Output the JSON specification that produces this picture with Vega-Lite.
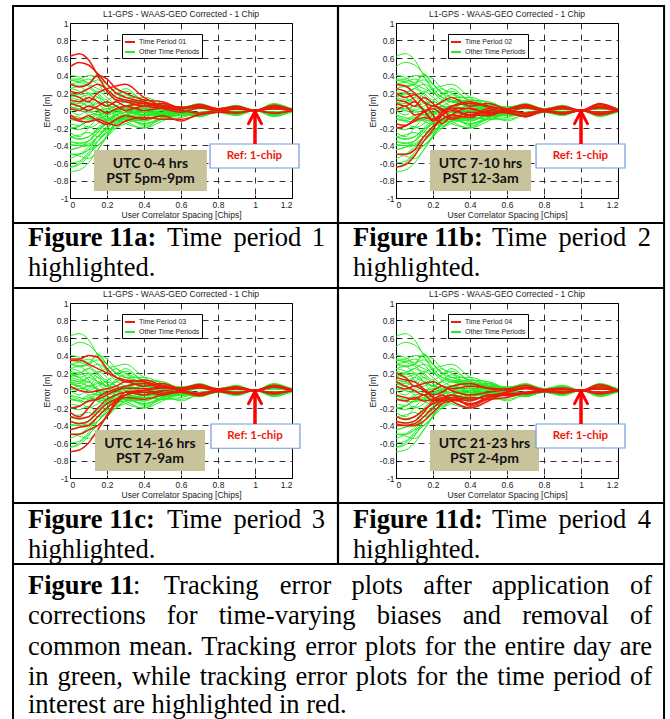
{
"$schema":"https://vega.github.io/schema/vega-lite/v6.json",
"padding":{"left":11,"top":4,"right":0,"bottom":0},
"background":"white",
"datasets":{"curves":[
{"c":1,"x":0,"y":0.62},{"c":1,"x":0.05,"y":0.65},{"c":1,"x":0.1,"y":0.58},{"c":1,"x":0.15,"y":0.4},{"c":1,"x":0.2,"y":0.22},{"c":1,"x":0.25,"y":0.12},{"c":1,"x":0.3,"y":0.1},{"c":1,"x":0.4,"y":0.05},{"c":1,"x":0.5,"y":0.08},{"c":1,"x":0.6,"y":0.02},{"c":1,"x":0.7,"y":0.06},{"c":1,"x":0.8,"y":0.01},{"c":1,"x":0.9,"y":0.04},{"c":1,"x":1,"y":0},{"c":1,"x":1.1,"y":0.05},{"c":1,"x":1.2,"y":0.01},
{"c":2,"x":0,"y":0.5},{"c":2,"x":0.05,"y":0.55},{"c":2,"x":0.1,"y":0.52},{"c":2,"x":0.15,"y":0.42},{"c":2,"x":0.2,"y":0.3},{"c":2,"x":0.25,"y":0.2},{"c":2,"x":0.3,"y":0.15},{"c":2,"x":0.4,"y":0.1},{"c":2,"x":0.5,"y":0.05},{"c":2,"x":0.6,"y":0.04},{"c":2,"x":0.7,"y":0.03},{"c":2,"x":0.8,"y":0.02},{"c":2,"x":0.9,"y":0.03},{"c":2,"x":1,"y":0},{"c":2,"x":1.1,"y":0.04},{"c":2,"x":1.2,"y":0},
{"c":3,"x":0,"y":0.3},{"c":3,"x":0.05,"y":0.27},{"c":3,"x":0.1,"y":0.3},{"c":3,"x":0.15,"y":0.4},{"c":3,"x":0.2,"y":0.36},{"c":3,"x":0.25,"y":0.25},{"c":3,"x":0.3,"y":0.2},{"c":3,"x":0.4,"y":0.12},{"c":3,"x":0.5,"y":0.1},{"c":3,"x":0.6,"y":0.03},{"c":3,"x":0.7,"y":0.07},{"c":3,"x":0.8,"y":0.02},{"c":3,"x":0.9,"y":0.05},{"c":3,"x":1,"y":0},{"c":3,"x":1.1,"y":0.06},{"c":3,"x":1.2,"y":0.01},
{"c":4,"x":0,"y":0.22},{"c":4,"x":0.05,"y":0.2},{"c":4,"x":0.1,"y":0.25},{"c":4,"x":0.15,"y":0.3},{"c":4,"x":0.2,"y":0.24},{"c":4,"x":0.25,"y":0.15},{"c":4,"x":0.3,"y":0.12},{"c":4,"x":0.4,"y":0.08},{"c":4,"x":0.5,"y":0.06},{"c":4,"x":0.6,"y":0.03},{"c":4,"x":0.7,"y":0.05},{"c":4,"x":0.8,"y":0.01},{"c":4,"x":0.9,"y":0.04},{"c":4,"x":1,"y":0},{"c":4,"x":1.1,"y":0.04},{"c":4,"x":1.2,"y":0.01},
{"c":5,"x":0,"y":0.18},{"c":5,"x":0.05,"y":0.15},{"c":5,"x":0.1,"y":0.1},{"c":5,"x":0.15,"y":0.2},{"c":5,"x":0.2,"y":0.25},{"c":5,"x":0.25,"y":0.28},{"c":5,"x":0.3,"y":0.3},{"c":5,"x":0.4,"y":0.15},{"c":5,"x":0.5,"y":0.05},{"c":5,"x":0.6,"y":0.02},{"c":5,"x":0.7,"y":0.06},{"c":5,"x":0.8,"y":0.01},{"c":5,"x":0.9,"y":0.03},{"c":5,"x":1,"y":0},{"c":5,"x":1.1,"y":0.05},{"c":5,"x":1.2,"y":0},
{"c":6,"x":0,"y":0.12},{"c":6,"x":0.05,"y":0.1},{"c":6,"x":0.1,"y":0.15},{"c":6,"x":0.15,"y":0.1},{"c":6,"x":0.2,"y":0.05},{"c":6,"x":0.25,"y":0.1},{"c":6,"x":0.3,"y":0.05},{"c":6,"x":0.4,"y":0.08},{"c":6,"x":0.5,"y":0.03},{"c":6,"x":0.6,"y":0.02},{"c":6,"x":0.7,"y":0.04},{"c":6,"x":0.8,"y":0.01},{"c":6,"x":0.9,"y":0.02},{"c":6,"x":1,"y":0},{"c":6,"x":1.1,"y":0.03},{"c":6,"x":1.2,"y":0.01},
{"c":7,"x":0,"y":0.08},{"c":7,"x":0.05,"y":0.05},{"c":7,"x":0.1,"y":0},{"c":7,"x":0.15,"y":0.05},{"c":7,"x":0.2,"y":0.1},{"c":7,"x":0.25,"y":0.05},{"c":7,"x":0.3,"y":0},{"c":7,"x":0.4,"y":0.05},{"c":7,"x":0.5,"y":0.02},{"c":7,"x":0.6,"y":-0.02},{"c":7,"x":0.7,"y":0.03},{"c":7,"x":0.8,"y":0},{"c":7,"x":0.9,"y":0.02},{"c":7,"x":1,"y":0},{"c":7,"x":1.1,"y":0.02},{"c":7,"x":1.2,"y":0},
{"c":8,"x":0,"y":0.02},{"c":8,"x":0.05,"y":0},{"c":8,"x":0.1,"y":0.05},{"c":8,"x":0.15,"y":0.02},{"c":8,"x":0.2,"y":-0.03},{"c":8,"x":0.25,"y":0.02},{"c":8,"x":0.3,"y":0.05},{"c":8,"x":0.4,"y":0},{"c":8,"x":0.5,"y":0.03},{"c":8,"x":0.6,"y":0},{"c":8,"x":0.7,"y":-0.03},{"c":8,"x":0.8,"y":0},{"c":8,"x":0.9,"y":-0.02},{"c":8,"x":1,"y":0},{"c":8,"x":1.1,"y":-0.03},{"c":8,"x":1.2,"y":0},
{"c":9,"x":0,"y":-0.08},{"c":9,"x":0.05,"y":-0.12},{"c":9,"x":0.1,"y":-0.13},{"c":9,"x":0.15,"y":-0.1},{"c":9,"x":0.2,"y":-0.14},{"c":9,"x":0.25,"y":-0.17},{"c":9,"x":0.3,"y":-0.12},{"c":9,"x":0.4,"y":-0.08},{"c":9,"x":0.5,"y":-0.1},{"c":9,"x":0.6,"y":-0.1},{"c":9,"x":0.7,"y":-0.05},{"c":9,"x":0.8,"y":-0.02},{"c":9,"x":0.9,"y":-0.03},{"c":9,"x":1,"y":0},{"c":9,"x":1.1,"y":-0.03},{"c":9,"x":1.2,"y":0},
{"c":10,"x":0,"y":-0.05},{"c":10,"x":0.05,"y":-0.1},{"c":10,"x":0.1,"y":-0.06},{"c":10,"x":0.15,"y":-0.12},{"c":10,"x":0.2,"y":-0.16},{"c":10,"x":0.25,"y":-0.1},{"c":10,"x":0.3,"y":-0.06},{"c":10,"x":0.4,"y":-0.1},{"c":10,"x":0.5,"y":-0.06},{"c":10,"x":0.6,"y":-0.12},{"c":10,"x":0.7,"y":-0.04},{"c":10,"x":0.8,"y":-0.02},{"c":10,"x":0.9,"y":0.02},{"c":10,"x":1,"y":0},{"c":10,"x":1.1,"y":0.02},{"c":10,"x":1.2,"y":0},
{"c":11,"x":0,"y":0.3},{"c":11,"x":0.05,"y":0.28},{"c":11,"x":0.1,"y":0.2},{"c":11,"x":0.15,"y":0.1},{"c":11,"x":0.2,"y":0.05},{"c":11,"x":0.25,"y":0.1},{"c":11,"x":0.3,"y":0.15},{"c":11,"x":0.4,"y":0.05},{"c":11,"x":0.5,"y":0.08},{"c":11,"x":0.6,"y":0.02},{"c":11,"x":0.7,"y":0.07},{"c":11,"x":0.8,"y":0.01},{"c":11,"x":0.9,"y":0.05},{"c":11,"x":1,"y":0},{"c":11,"x":1.1,"y":0.08},{"c":11,"x":1.2,"y":0.01},
{"c":12,"x":0,"y":0.25},{"c":12,"x":0.05,"y":0.22},{"c":12,"x":0.1,"y":0.12},{"c":12,"x":0.15,"y":0},{"c":12,"x":0.2,"y":-0.1},{"c":12,"x":0.25,"y":-0.05},{"c":12,"x":0.3,"y":0.05},{"c":12,"x":0.4,"y":0.08},{"c":12,"x":0.5,"y":0.05},{"c":12,"x":0.6,"y":0},{"c":12,"x":0.7,"y":-0.07},{"c":12,"x":0.8,"y":0},{"c":12,"x":0.9,"y":-0.04},{"c":12,"x":1,"y":0},{"c":12,"x":1.1,"y":-0.05},{"c":12,"x":1.2,"y":0},
{"c":13,"x":0,"y":0.2},{"c":13,"x":0.05,"y":0.15},{"c":13,"x":0.1,"y":0.18},{"c":13,"x":0.15,"y":0.1},{"c":13,"x":0.2,"y":-0.05},{"c":13,"x":0.25,"y":-0.15},{"c":13,"x":0.3,"y":-0.05},{"c":13,"x":0.4,"y":0.03},{"c":13,"x":0.5,"y":-0.04},{"c":13,"x":0.6,"y":0.01},{"c":13,"x":0.7,"y":0.05},{"c":13,"x":0.8,"y":0.01},{"c":13,"x":0.9,"y":0.03},{"c":13,"x":1,"y":0},{"c":13,"x":1.1,"y":0.04},{"c":13,"x":1.2,"y":0.01},
{"c":14,"x":0,"y":0.12},{"c":14,"x":0.05,"y":0.1},{"c":14,"x":0.1,"y":0.05},{"c":14,"x":0.15,"y":0.15},{"c":14,"x":0.2,"y":0.08},{"c":14,"x":0.25,"y":0},{"c":14,"x":0.3,"y":0.05},{"c":14,"x":0.4,"y":0.1},{"c":14,"x":0.5,"y":0.04},{"c":14,"x":0.6,"y":0.02},{"c":14,"x":0.7,"y":0.06},{"c":14,"x":0.8,"y":0.01},{"c":14,"x":0.9,"y":0.04},{"c":14,"x":1,"y":0},{"c":14,"x":1.1,"y":0.07},{"c":14,"x":1.2,"y":0},
{"c":15,"x":0,"y":0.08},{"c":15,"x":0.05,"y":0.05},{"c":15,"x":0.1,"y":0.1},{"c":15,"x":0.15,"y":0},{"c":15,"x":0.2,"y":-0.12},{"c":15,"x":0.25,"y":-0.05},{"c":15,"x":0.3,"y":0},{"c":15,"x":0.4,"y":-0.05},{"c":15,"x":0.5,"y":0.02},{"c":15,"x":0.6,"y":-0.02},{"c":15,"x":0.7,"y":-0.06},{"c":15,"x":0.8,"y":-0.01},{"c":15,"x":0.9,"y":-0.03},{"c":15,"x":1,"y":0},{"c":15,"x":1.1,"y":-0.04},{"c":15,"x":1.2,"y":0},
{"c":16,"x":0,"y":0},{"c":16,"x":0.05,"y":0.05},{"c":16,"x":0.1,"y":-0.05},{"c":16,"x":0.15,"y":-0.02},{"c":16,"x":0.2,"y":0.05},{"c":16,"x":0.25,"y":0.02},{"c":16,"x":0.3,"y":-0.08},{"c":16,"x":0.4,"y":-0.02},{"c":16,"x":0.5,"y":-0.04},{"c":16,"x":0.6,"y":0.02},{"c":16,"x":0.7,"y":0.03},{"c":16,"x":0.8,"y":0},{"c":16,"x":0.9,"y":0.02},{"c":16,"x":1,"y":0},{"c":16,"x":1.1,"y":0.03},{"c":16,"x":1.2,"y":0},
{"c":17,"x":0,"y":-0.15},{"c":17,"x":0.05,"y":-0.17},{"c":17,"x":0.1,"y":-0.1},{"c":17,"x":0.15,"y":-0.02},{"c":17,"x":0.2,"y":0.02},{"c":17,"x":0.25,"y":-0.05},{"c":17,"x":0.3,"y":-0.1},{"c":17,"x":0.4,"y":-0.05},{"c":17,"x":0.5,"y":-0.06},{"c":17,"x":0.6,"y":0},{"c":17,"x":0.7,"y":-0.04},{"c":17,"x":0.8,"y":-0.01},{"c":17,"x":0.9,"y":-0.03},{"c":17,"x":1,"y":0},{"c":17,"x":1.1,"y":-0.02},{"c":17,"x":1.2,"y":0},
{"c":18,"x":0,"y":-0.2},{"c":18,"x":0.05,"y":-0.18},{"c":18,"x":0.1,"y":-0.12},{"c":18,"x":0.15,"y":-0.08},{"c":18,"x":0.2,"y":-0.1},{"c":18,"x":0.25,"y":-0.02},{"c":18,"x":0.3,"y":0.02},{"c":18,"x":0.4,"y":-0.06},{"c":18,"x":0.5,"y":-0.02},{"c":18,"x":0.6,"y":-0.03},{"c":18,"x":0.7,"y":-0.07},{"c":18,"x":0.8,"y":-0.01},{"c":18,"x":0.9,"y":-0.04},{"c":18,"x":1,"y":0},{"c":18,"x":1.1,"y":-0.03},{"c":18,"x":1.2,"y":0},
{"c":19,"x":0,"y":-0.5},{"c":19,"x":0.05,"y":-0.5},{"c":19,"x":0.1,"y":-0.45},{"c":19,"x":0.15,"y":-0.3},{"c":19,"x":0.2,"y":-0.18},{"c":19,"x":0.25,"y":-0.1},{"c":19,"x":0.3,"y":-0.05},{"c":19,"x":0.4,"y":-0.08},{"c":19,"x":0.5,"y":0},{"c":19,"x":0.6,"y":-0.02},{"c":19,"x":0.7,"y":0.04},{"c":19,"x":0.8,"y":0.01},{"c":19,"x":0.9,"y":0.03},{"c":19,"x":1,"y":0},{"c":19,"x":1.1,"y":0.05},{"c":19,"x":1.2,"y":0},
{"c":20,"x":0,"y":-0.65},{"c":20,"x":0.05,"y":-0.62},{"c":20,"x":0.1,"y":-0.52},{"c":20,"x":0.15,"y":-0.35},{"c":20,"x":0.2,"y":-0.22},{"c":20,"x":0.25,"y":-0.05},{"c":20,"x":0.3,"y":0.03},{"c":20,"x":0.4,"y":0.02},{"c":20,"x":0.5,"y":-0.03},{"c":20,"x":0.6,"y":0.01},{"c":20,"x":0.7,"y":-0.03},{"c":20,"x":0.8,"y":0},{"c":20,"x":0.9,"y":-0.02},{"c":20,"x":1,"y":0},{"c":20,"x":1.1,"y":-0.02},{"c":20,"x":1.2,"y":0},
{"c":21,"x":0,"y":0.36},{"c":21,"x":0.05,"y":0.36},{"c":21,"x":0.1,"y":0.4},{"c":21,"x":0.15,"y":0.38},{"c":21,"x":0.2,"y":0.25},{"c":21,"x":0.25,"y":0.15},{"c":21,"x":0.3,"y":0.12},{"c":21,"x":0.4,"y":0.1},{"c":21,"x":0.5,"y":0.05},{"c":21,"x":0.6,"y":0.03},{"c":21,"x":0.7,"y":0.06},{"c":21,"x":0.8,"y":0.01},{"c":21,"x":0.9,"y":0.04},{"c":21,"x":1,"y":0},{"c":21,"x":1.1,"y":0.05},{"c":21,"x":1.2,"y":0.01},
{"c":22,"x":0,"y":0.34},{"c":22,"x":0.05,"y":0.35},{"c":22,"x":0.1,"y":0.3},{"c":22,"x":0.15,"y":0.25},{"c":22,"x":0.2,"y":0.2},{"c":22,"x":0.25,"y":0.15},{"c":22,"x":0.3,"y":0.1},{"c":22,"x":0.4,"y":0.12},{"c":22,"x":0.5,"y":0.06},{"c":22,"x":0.6,"y":0.02},{"c":22,"x":0.7,"y":0.05},{"c":22,"x":0.8,"y":0.02},{"c":22,"x":0.9,"y":0.03},{"c":22,"x":1,"y":0},{"c":22,"x":1.1,"y":0.04},{"c":22,"x":1.2,"y":0},
{"c":23,"x":0,"y":0.05},{"c":23,"x":0.05,"y":0},{"c":23,"x":0.1,"y":-0.02},{"c":23,"x":0.15,"y":0},{"c":23,"x":0.2,"y":0.02},{"c":23,"x":0.25,"y":0.05},{"c":23,"x":0.3,"y":0.1},{"c":23,"x":0.4,"y":0.05},{"c":23,"x":0.5,"y":0.08},{"c":23,"x":0.6,"y":0.02},{"c":23,"x":0.7,"y":0.07},{"c":23,"x":0.8,"y":0.01},{"c":23,"x":0.9,"y":0.04},{"c":23,"x":1,"y":0},{"c":23,"x":1.1,"y":0.06},{"c":23,"x":1.2,"y":0.01},
{"c":24,"x":0,"y":-0.2},{"c":24,"x":0.05,"y":-0.18},{"c":24,"x":0.1,"y":-0.12},{"c":24,"x":0.15,"y":-0.1},{"c":24,"x":0.2,"y":-0.05},{"c":24,"x":0.25,"y":0},{"c":24,"x":0.3,"y":0.03},{"c":24,"x":0.4,"y":0.02},{"c":24,"x":0.5,"y":0.04},{"c":24,"x":0.6,"y":0},{"c":24,"x":0.7,"y":0.05},{"c":24,"x":0.8,"y":0.01},{"c":24,"x":0.9,"y":0.03},{"c":24,"x":1,"y":0},{"c":24,"x":1.1,"y":0.05},{"c":24,"x":1.2,"y":0},
{"c":25,"x":0,"y":-0.25},{"c":25,"x":0.05,"y":-0.3},{"c":25,"x":0.1,"y":-0.2},{"c":25,"x":0.15,"y":-0.08},{"c":25,"x":0.2,"y":-0.02},{"c":25,"x":0.25,"y":0.02},{"c":25,"x":0.3,"y":0.05},{"c":25,"x":0.4,"y":0.08},{"c":25,"x":0.5,"y":0.03},{"c":25,"x":0.6,"y":0.02},{"c":25,"x":0.7,"y":0.04},{"c":25,"x":0.8,"y":0.01},{"c":25,"x":0.9,"y":0.02},{"c":25,"x":1,"y":0},{"c":25,"x":1.1,"y":0.04},{"c":25,"x":1.2,"y":0},
{"c":26,"x":0,"y":-0.3},{"c":26,"x":0.05,"y":-0.32},{"c":26,"x":0.1,"y":-0.3},{"c":26,"x":0.15,"y":-0.2},{"c":26,"x":0.2,"y":-0.1},{"c":26,"x":0.25,"y":-0.05},{"c":26,"x":0.3,"y":-0.02},{"c":26,"x":0.4,"y":0},{"c":26,"x":0.5,"y":-0.03},{"c":26,"x":0.6,"y":-0.01},{"c":26,"x":0.7,"y":-0.05},{"c":26,"x":0.8,"y":-0.01},{"c":26,"x":0.9,"y":-0.03},{"c":26,"x":1,"y":0},{"c":26,"x":1.1,"y":-0.03},{"c":26,"x":1.2,"y":0},
{"c":27,"x":0,"y":-0.35},{"c":27,"x":0.05,"y":-0.38},{"c":27,"x":0.1,"y":-0.35},{"c":27,"x":0.15,"y":-0.25},{"c":27,"x":0.2,"y":-0.15},{"c":27,"x":0.25,"y":-0.1},{"c":27,"x":0.3,"y":-0.05},{"c":27,"x":0.4,"y":-0.02},{"c":27,"x":0.5,"y":-0.05},{"c":27,"x":0.6,"y":0},{"c":27,"x":0.7,"y":-0.04},{"c":27,"x":0.8,"y":0},{"c":27,"x":0.9,"y":-0.02},{"c":27,"x":1,"y":0},{"c":27,"x":1.1,"y":-0.04},{"c":27,"x":1.2,"y":0},
{"c":28,"x":0,"y":-0.45},{"c":28,"x":0.05,"y":-0.42},{"c":28,"x":0.1,"y":-0.4},{"c":28,"x":0.15,"y":-0.3},{"c":28,"x":0.2,"y":-0.2},{"c":28,"x":0.25,"y":-0.12},{"c":28,"x":0.3,"y":-0.08},{"c":28,"x":0.4,"y":-0.1},{"c":28,"x":0.5,"y":-0.05},{"c":28,"x":0.6,"y":-0.02},{"c":28,"x":0.7,"y":-0.06},{"c":28,"x":0.8,"y":-0.01},{"c":28,"x":0.9,"y":-0.04},{"c":28,"x":1,"y":0},{"c":28,"x":1.1,"y":-0.03},{"c":28,"x":1.2,"y":0},
{"c":29,"x":0,"y":-0.5},{"c":29,"x":0.05,"y":-0.5},{"c":29,"x":0.1,"y":-0.45},{"c":29,"x":0.15,"y":-0.4},{"c":29,"x":0.2,"y":-0.3},{"c":29,"x":0.25,"y":-0.15},{"c":29,"x":0.3,"y":-0.05},{"c":29,"x":0.4,"y":0},{"c":29,"x":0.5,"y":0.03},{"c":29,"x":0.6,"y":0.01},{"c":29,"x":0.7,"y":0.03},{"c":29,"x":0.8,"y":0},{"c":29,"x":0.9,"y":0.02},{"c":29,"x":1,"y":0},{"c":29,"x":1.1,"y":0.04},{"c":29,"x":1.2,"y":0},
{"c":30,"x":0,"y":-0.7},{"c":30,"x":0.05,"y":-0.68},{"c":30,"x":0.1,"y":-0.6},{"c":30,"x":0.15,"y":-0.45},{"c":30,"x":0.2,"y":-0.28},{"c":30,"x":0.25,"y":-0.12},{"c":30,"x":0.3,"y":-0.02},{"c":30,"x":0.4,"y":-0.05},{"c":30,"x":0.5,"y":0},{"c":30,"x":0.6,"y":-0.02},{"c":30,"x":0.7,"y":-0.03},{"c":30,"x":0.8,"y":0},{"c":30,"x":0.9,"y":-0.03},{"c":30,"x":1,"y":0},{"c":30,"x":1.1,"y":-0.02},{"c":30,"x":1.2,"y":0},
{"c":31,"x":0,"y":0.2},{"c":31,"x":0.05,"y":0.15},{"c":31,"x":0.1,"y":0.05},{"c":31,"x":0.15,"y":0.08},{"c":31,"x":0.2,"y":0.1},{"c":31,"x":0.25,"y":0.05},{"c":31,"x":0.3,"y":0.02},{"c":31,"x":0.4,"y":0.05},{"c":31,"x":0.5,"y":0.03},{"c":31,"x":0.6,"y":0.02},{"c":31,"x":0.7,"y":0.06},{"c":31,"x":0.8,"y":0.01},{"c":31,"x":0.9,"y":0.03},{"c":31,"x":1,"y":0},{"c":31,"x":1.1,"y":0.07},{"c":31,"x":1.2,"y":0},
{"c":32,"x":0,"y":0.15},{"c":32,"x":0.05,"y":0.12},{"c":32,"x":0.1,"y":0.1},{"c":32,"x":0.15,"y":0.02},{"c":32,"x":0.2,"y":-0.05},{"c":32,"x":0.25,"y":-0.02},{"c":32,"x":0.3,"y":0.05},{"c":32,"x":0.4,"y":0.08},{"c":32,"x":0.5,"y":0.02},{"c":32,"x":0.6,"y":0},{"c":32,"x":0.7,"y":0.04},{"c":32,"x":0.8,"y":0.01},{"c":32,"x":0.9,"y":0.02},{"c":32,"x":1,"y":0},{"c":32,"x":1.1,"y":0.05},{"c":32,"x":1.2,"y":0},
{"c":33,"x":0,"y":0.1},{"c":33,"x":0.05,"y":0.05},{"c":33,"x":0.1,"y":0},{"c":33,"x":0.15,"y":-0.05},{"c":33,"x":0.2,"y":0},{"c":33,"x":0.25,"y":0.05},{"c":33,"x":0.3,"y":0},{"c":33,"x":0.4,"y":-0.05},{"c":33,"x":0.5,"y":-0.02},{"c":33,"x":0.6,"y":0.01},{"c":33,"x":0.7,"y":0.03},{"c":33,"x":0.8,"y":0},{"c":33,"x":0.9,"y":0.01},{"c":33,"x":1,"y":0},{"c":33,"x":1.1,"y":0.02},{"c":33,"x":1.2,"y":0},
{"c":34,"x":0,"y":0.05},{"c":34,"x":0.05,"y":0.02},{"c":34,"x":0.1,"y":0.05},{"c":34,"x":0.15,"y":0},{"c":34,"x":0.2,"y":-0.08},{"c":34,"x":0.25,"y":-0.12},{"c":34,"x":0.3,"y":-0.1},{"c":34,"x":0.4,"y":-0.15},{"c":34,"x":0.5,"y":-0.08},{"c":34,"x":0.6,"y":-0.05},{"c":34,"x":0.7,"y":-0.02},{"c":34,"x":0.8,"y":0},{"c":34,"x":0.9,"y":-0.02},{"c":34,"x":1,"y":0},{"c":34,"x":1.1,"y":-0.02},{"c":34,"x":1.2,"y":0},
{"c":35,"x":0,"y":-0.05},{"c":35,"x":0.05,"y":-0.08},{"c":35,"x":0.1,"y":-0.1},{"c":35,"x":0.15,"y":-0.05},{"c":35,"x":0.2,"y":-0.12},{"c":35,"x":0.25,"y":-0.1},{"c":35,"x":0.3,"y":-0.05},{"c":35,"x":0.4,"y":-0.18},{"c":35,"x":0.5,"y":-0.1},{"c":35,"x":0.6,"y":-0.08},{"c":35,"x":0.7,"y":-0.03},{"c":35,"x":0.8,"y":-0.01},{"c":35,"x":0.9,"y":-0.02},{"c":35,"x":1,"y":0},{"c":35,"x":1.1,"y":-0.03},{"c":35,"x":1.2,"y":0},
{"c":36,"x":0,"y":-0.1},{"c":36,"x":0.05,"y":-0.12},{"c":36,"x":0.1,"y":-0.08},{"c":36,"x":0.15,"y":-0.12},{"c":36,"x":0.2,"y":-0.1},{"c":36,"x":0.25,"y":-0.05},{"c":36,"x":0.3,"y":-0.12},{"c":36,"x":0.4,"y":-0.2},{"c":36,"x":0.5,"y":-0.12},{"c":36,"x":0.6,"y":-0.03},{"c":36,"x":0.7,"y":-0.04},{"c":36,"x":0.8,"y":-0.01},{"c":36,"x":0.9,"y":-0.03},{"c":36,"x":1,"y":0},{"c":36,"x":1.1,"y":-0.04},{"c":36,"x":1.2,"y":0},
{"c":37,"x":0,"y":-0.3},{"c":37,"x":0.05,"y":-0.33},{"c":37,"x":0.1,"y":-0.3},{"c":37,"x":0.15,"y":-0.22},{"c":37,"x":0.2,"y":-0.15},{"c":37,"x":0.25,"y":-0.1},{"c":37,"x":0.3,"y":-0.08},{"c":37,"x":0.4,"y":-0.12},{"c":37,"x":0.5,"y":-0.05},{"c":37,"x":0.6,"y":-0.06},{"c":37,"x":0.7,"y":-0.02},{"c":37,"x":0.8,"y":0},{"c":37,"x":0.9,"y":0.02},{"c":37,"x":1,"y":0},{"c":37,"x":1.1,"y":0.03},{"c":37,"x":1.2,"y":0},
{"c":38,"x":0,"y":-0.35},{"c":38,"x":0.05,"y":-0.37},{"c":38,"x":0.1,"y":-0.35},{"c":38,"x":0.15,"y":-0.25},{"c":38,"x":0.2,"y":-0.12},{"c":38,"x":0.25,"y":-0.08},{"c":38,"x":0.3,"y":-0.05},{"c":38,"x":0.4,"y":-0.1},{"c":38,"x":0.5,"y":-0.06},{"c":38,"x":0.6,"y":-0.02},{"c":38,"x":0.7,"y":0.02},{"c":38,"x":0.8,"y":0},{"c":38,"x":0.9,"y":0.01},{"c":38,"x":1,"y":0},{"c":38,"x":1.1,"y":0.02},{"c":38,"x":1.2,"y":0},
{"c":39,"x":0,"y":-0.4},{"c":39,"x":0.05,"y":-0.4},{"c":39,"x":0.1,"y":-0.38},{"c":39,"x":0.15,"y":-0.3},{"c":39,"x":0.2,"y":-0.2},{"c":39,"x":0.25,"y":-0.12},{"c":39,"x":0.3,"y":-0.1},{"c":39,"x":0.4,"y":-0.16},{"c":39,"x":0.5,"y":-0.08},{"c":39,"x":0.6,"y":-0.04},{"c":39,"x":0.7,"y":-0.03},{"c":39,"x":0.8,"y":-0.01},{"c":39,"x":0.9,"y":-0.02},{"c":39,"x":1,"y":0},{"c":39,"x":1.1,"y":-0.02},{"c":39,"x":1.2,"y":0},
{"c":40,"x":0,"y":-0.38},{"c":40,"x":0.05,"y":-0.4},{"c":40,"x":0.1,"y":-0.4},{"c":40,"x":0.15,"y":-0.35},{"c":40,"x":0.2,"y":-0.25},{"c":40,"x":0.25,"y":-0.15},{"c":40,"x":0.3,"y":-0.12},{"c":40,"x":0.4,"y":-0.08},{"c":40,"x":0.5,"y":-0.1},{"c":40,"x":0.6,"y":-0.02},{"c":40,"x":0.7,"y":0.03},{"c":40,"x":0.8,"y":0},{"c":40,"x":0.9,"y":0.02},{"c":40,"x":1,"y":0},{"c":40,"x":1.1,"y":0.02},{"c":40,"x":1.2,"y":0},
{"c":41,"x":0,"y":0.4},{"c":41,"x":0.05,"y":0.38},{"c":41,"x":0.1,"y":0.32},{"c":41,"x":0.15,"y":0.42},{"c":41,"x":0.2,"y":0.3},{"c":41,"x":0.25,"y":0.2},{"c":41,"x":0.3,"y":0.25},{"c":41,"x":0.4,"y":0.1},{"c":41,"x":0.5,"y":0.06},{"c":41,"x":0.6,"y":0.03},{"c":41,"x":0.7,"y":0.06},{"c":41,"x":0.8,"y":0.02},{"c":41,"x":0.9,"y":0.05},{"c":41,"x":1,"y":0},{"c":41,"x":1.1,"y":0.06},{"c":41,"x":1.2,"y":0.01},
{"c":42,"x":0,"y":0.35},{"c":42,"x":0.05,"y":0.33},{"c":42,"x":0.1,"y":0.36},{"c":42,"x":0.15,"y":0.3},{"c":42,"x":0.2,"y":0.2},{"c":42,"x":0.25,"y":0.25},{"c":42,"x":0.3,"y":0.15},{"c":42,"x":0.4,"y":0.15},{"c":42,"x":0.5,"y":0.08},{"c":42,"x":0.6,"y":0.04},{"c":42,"x":0.7,"y":0.07},{"c":42,"x":0.8,"y":0.02},{"c":42,"x":0.9,"y":0.05},{"c":42,"x":1,"y":0},{"c":42,"x":1.1,"y":0.07},{"c":42,"x":1.2,"y":0.02},
{"c":43,"x":0,"y":0.3},{"c":43,"x":0.05,"y":0.32},{"c":43,"x":0.1,"y":0.28},{"c":43,"x":0.15,"y":0.2},{"c":43,"x":0.2,"y":0.12},{"c":43,"x":0.25,"y":0.18},{"c":43,"x":0.3,"y":0.22},{"c":43,"x":0.4,"y":0.12},{"c":43,"x":0.5,"y":0.1},{"c":43,"x":0.6,"y":0.03},{"c":43,"x":0.7,"y":0.08},{"c":43,"x":0.8,"y":0.02},{"c":43,"x":0.9,"y":0.06},{"c":43,"x":1,"y":0},{"c":43,"x":1.1,"y":0.05},{"c":43,"x":1.2,"y":0.01},
{"c":44,"x":0,"y":0.25},{"c":44,"x":0.05,"y":0.28},{"c":44,"x":0.1,"y":0.3},{"c":44,"x":0.15,"y":0.35},{"c":44,"x":0.2,"y":0.3},{"c":44,"x":0.25,"y":0.2},{"c":44,"x":0.3,"y":0.1},{"c":44,"x":0.4,"y":0.08},{"c":44,"x":0.5,"y":0.04},{"c":44,"x":0.6,"y":0.02},{"c":44,"x":0.7,"y":0.05},{"c":44,"x":0.8,"y":0.01},{"c":44,"x":0.9,"y":0.04},{"c":44,"x":1,"y":0},{"c":44,"x":1.1,"y":0.06},{"c":44,"x":1.2,"y":0.02},
{"c":45,"x":0,"y":0.2},{"c":45,"x":0.05,"y":0.18},{"c":45,"x":0.1,"y":0.2},{"c":45,"x":0.15,"y":0.15},{"c":45,"x":0.2,"y":0.05},{"c":45,"x":0.25,"y":0.12},{"c":45,"x":0.3,"y":0.18},{"c":45,"x":0.4,"y":0.06},{"c":45,"x":0.5,"y":0.05},{"c":45,"x":0.6,"y":0.02},{"c":45,"x":0.7,"y":0.06},{"c":45,"x":0.8,"y":0.01},{"c":45,"x":0.9,"y":0.03},{"c":45,"x":1,"y":0},{"c":45,"x":1.1,"y":0.05},{"c":45,"x":1.2,"y":0.01},
{"c":46,"x":0,"y":0.15},{"c":46,"x":0.05,"y":0.2},{"c":46,"x":0.1,"y":0.25},{"c":46,"x":0.15,"y":0.18},{"c":46,"x":0.2,"y":0.08},{"c":46,"x":0.25,"y":0},{"c":46,"x":0.3,"y":0.05},{"c":46,"x":0.4,"y":0.02},{"c":46,"x":0.5,"y":0.06},{"c":46,"x":0.6,"y":0},{"c":46,"x":0.7,"y":0.04},{"c":46,"x":0.8,"y":0.02},{"c":46,"x":0.9,"y":0.03},{"c":46,"x":1,"y":0},{"c":46,"x":1.1,"y":0.04},{"c":46,"x":1.2,"y":0},
{"c":47,"x":0,"y":0.1},{"c":47,"x":0.05,"y":0.08},{"c":47,"x":0.1,"y":0.15},{"c":47,"x":0.15,"y":0.22},{"c":47,"x":0.2,"y":0.15},{"c":47,"x":0.25,"y":0.05},{"c":47,"x":0.3,"y":-0.05},{"c":47,"x":0.4,"y":0.03},{"c":47,"x":0.5,"y":0},{"c":47,"x":0.6,"y":-0.02},{"c":47,"x":0.7,"y":0.03},{"c":47,"x":0.8,"y":0},{"c":47,"x":0.9,"y":0.02},{"c":47,"x":1,"y":0},{"c":47,"x":1.1,"y":0.03},{"c":47,"x":1.2,"y":0},
{"c":48,"x":0,"y":0},{"c":48,"x":0.05,"y":-0.05},{"c":48,"x":0.1,"y":0.02},{"c":48,"x":0.15,"y":0.1},{"c":48,"x":0.2,"y":0.05},{"c":48,"x":0.25,"y":-0.05},{"c":48,"x":0.3,"y":-0.1},{"c":48,"x":0.4,"y":-0.05},{"c":48,"x":0.5,"y":-0.02},{"c":48,"x":0.6,"y":-0.01},{"c":48,"x":0.7,"y":-0.05},{"c":48,"x":0.8,"y":0},{"c":48,"x":0.9,"y":-0.03},{"c":48,"x":1,"y":0},{"c":48,"x":1.1,"y":-0.04},{"c":48,"x":1.2,"y":0},
{"c":49,"x":0,"y":-0.1},{"c":49,"x":0.05,"y":-0.12},{"c":49,"x":0.1,"y":-0.2},{"c":49,"x":0.15,"y":-0.15},{"c":49,"x":0.2,"y":-0.05},{"c":49,"x":0.25,"y":0.02},{"c":49,"x":0.3,"y":0.05},{"c":49,"x":0.4,"y":-0.02},{"c":49,"x":0.5,"y":0.02},{"c":49,"x":0.6,"y":0},{"c":49,"x":0.7,"y":-0.04},{"c":49,"x":0.8,"y":0},{"c":49,"x":0.9,"y":-0.03},{"c":49,"x":1,"y":0},{"c":49,"x":1.1,"y":-0.05},{"c":49,"x":1.2,"y":0},
{"c":50,"x":0,"y":-0.2},{"c":50,"x":0.05,"y":-0.22},{"c":50,"x":0.1,"y":-0.18},{"c":50,"x":0.15,"y":-0.25},{"c":50,"x":0.2,"y":-0.2},{"c":50,"x":0.25,"y":-0.1},{"c":50,"x":0.3,"y":-0.15},{"c":50,"x":0.4,"y":-0.2},{"c":50,"x":0.5,"y":-0.08},{"c":50,"x":0.6,"y":-0.05},{"c":50,"x":0.7,"y":-0.05},{"c":50,"x":0.8,"y":-0.02},{"c":50,"x":0.9,"y":-0.04},{"c":50,"x":1,"y":0},{"c":50,"x":1.1,"y":-0.05},{"c":50,"x":1.2,"y":-0.01},
{"c":51,"x":0,"y":-0.3},{"c":51,"x":0.05,"y":-0.28},{"c":51,"x":0.1,"y":-0.25},{"c":51,"x":0.15,"y":-0.3},{"c":51,"x":0.2,"y":-0.25},{"c":51,"x":0.25,"y":-0.15},{"c":51,"x":0.3,"y":-0.1},{"c":51,"x":0.4,"y":-0.12},{"c":51,"x":0.5,"y":-0.05},{"c":51,"x":0.6,"y":-0.02},{"c":51,"x":0.7,"y":-0.06},{"c":51,"x":0.8,"y":-0.02},{"c":51,"x":0.9,"y":-0.04},{"c":51,"x":1,"y":0},{"c":51,"x":1.1,"y":-0.06},{"c":51,"x":1.2,"y":-0.01},
{"c":52,"x":0,"y":-0.45},{"c":52,"x":0.05,"y":-0.42},{"c":52,"x":0.1,"y":-0.35},{"c":52,"x":0.15,"y":-0.22},{"c":52,"x":0.2,"y":-0.15},{"c":52,"x":0.25,"y":-0.18},{"c":52,"x":0.3,"y":-0.12},{"c":52,"x":0.4,"y":-0.06},{"c":52,"x":0.5,"y":-0.04},{"c":52,"x":0.6,"y":-0.03},{"c":52,"x":0.7,"y":-0.05},{"c":52,"x":0.8,"y":-0.01},{"c":52,"x":0.9,"y":-0.03},{"c":52,"x":1,"y":0},{"c":52,"x":1.1,"y":-0.04},{"c":52,"x":1.2,"y":0},
{"c":53,"x":0,"y":-0.55},{"c":53,"x":0.05,"y":-0.5},{"c":53,"x":0.1,"y":-0.42},{"c":53,"x":0.15,"y":-0.3},{"c":53,"x":0.2,"y":-0.22},{"c":53,"x":0.25,"y":-0.2},{"c":53,"x":0.3,"y":-0.12},{"c":53,"x":0.4,"y":-0.1},{"c":53,"x":0.5,"y":-0.06},{"c":53,"x":0.6,"y":-0.04},{"c":53,"x":0.7,"y":-0.06},{"c":53,"x":0.8,"y":-0.02},{"c":53,"x":0.9,"y":-0.05},{"c":53,"x":1,"y":0},{"c":53,"x":1.1,"y":-0.07},{"c":53,"x":1.2,"y":-0.01},
{"c":54,"x":0,"y":-0.6},{"c":54,"x":0.05,"y":-0.58},{"c":54,"x":0.1,"y":-0.48},{"c":54,"x":0.15,"y":-0.35},{"c":54,"x":0.2,"y":-0.25},{"c":54,"x":0.25,"y":-0.15},{"c":54,"x":0.3,"y":-0.08},{"c":54,"x":0.4,"y":-0.04},{"c":54,"x":0.5,"y":-0.03},{"c":54,"x":0.6,"y":-0.02},{"c":54,"x":0.7,"y":-0.04},{"c":54,"x":0.8,"y":-0.01},{"c":54,"x":0.9,"y":-0.02},{"c":54,"x":1,"y":0},{"c":54,"x":1.1,"y":-0.05},{"c":54,"x":1.2,"y":-0.02},
{"c":55,"x":0,"y":-0.65},{"c":55,"x":0.05,"y":-0.6},{"c":55,"x":0.1,"y":-0.5},{"c":55,"x":0.15,"y":-0.4},{"c":55,"x":0.2,"y":-0.3},{"c":55,"x":0.25,"y":-0.2},{"c":55,"x":0.3,"y":-0.15},{"c":55,"x":0.4,"y":-0.08},{"c":55,"x":0.5,"y":-0.07},{"c":55,"x":0.6,"y":-0.04},{"c":55,"x":0.7,"y":-0.07},{"c":55,"x":0.8,"y":-0.02},{"c":55,"x":0.9,"y":-0.06},{"c":55,"x":1,"y":0},{"c":55,"x":1.1,"y":-0.06},{"c":55,"x":1.2,"y":-0.01},
{"c":56,"x":0,"y":-0.5},{"c":56,"x":0.05,"y":-0.52},{"c":56,"x":0.1,"y":-0.55},{"c":56,"x":0.15,"y":-0.45},{"c":56,"x":0.2,"y":-0.3},{"c":56,"x":0.25,"y":-0.15},{"c":56,"x":0.3,"y":-0.1},{"c":56,"x":0.4,"y":-0.15},{"c":56,"x":0.5,"y":-0.1},{"c":56,"x":0.6,"y":-0.05},{"c":56,"x":0.7,"y":-0.03},{"c":56,"x":0.8,"y":-0.01},{"c":56,"x":0.9,"y":-0.02},{"c":56,"x":1,"y":0},{"c":56,"x":1.1,"y":-0.03},{"c":56,"x":1.2,"y":0}
]},
"columns":2,
"spacing":{"row":105,"column":104},
"bounds":"flush",
"resolve":{"scale":{"x":"independent","y":"independent","color":"independent"},"axis":{"x":"independent","y":"independent"},"legend":{"color":"independent"}},
"concat":[
{"width":222,"height":175,
"layer":[
{"data":{"values":[{}]},"mark":{"type":"rect","fillOpacity":0,"stroke":"black","strokeWidth":2,"clip":false},"encoding":{"x":{"datum":-0.308},"x2":{"datum":1.449},"y":{"datum":1.194},"y2":{"datum":-2.029}}},
{"data":{"values":[{}]},"mark":{"type":"rule","stroke":"black","strokeWidth":2,"clip":false},"encoding":{"x":{"datum":-0.308},"x2":{"datum":1.449},"y":{"datum":-1.286}}},
{"data":{"values":[{}]},"mark":{"type":"text","font":"Liberation Sans","fontSize":8.5,"color":"#222","align":"center","baseline":"middle","clip":false},"encoding":{"x":{"datum":0.6},"y":{"datum":1.103},"text":{"value":"L1-GPS - WAAS-GEO Corrected  - 1 Chip"}}},
{"data":{"name":"curves"},"transform":[{"filter":"datum.c > 10"}],"mark":{"type":"line","interpolate":"monotone","strokeWidth":1,"clip":true},"encoding":{"x":{"field":"x","type":"quantitative","scale":{"domain":[0,1.2],"nice":false,"zero":false},"axis":{"values":[0,0.2,0.4,0.6,0.8,1,1.2],"format":"~g","title":"User Correlator Spacing [Chips]"}},"y":{"field":"y","type":"quantitative","scale":{"domain":[-1,1],"nice":false,"zero":false},"axis":{"values":[-1,-0.8,-0.6,-0.4,-0.2,0,0.2,0.4,0.6,0.8,1],"format":"~g","title":"Error [m]"}},"detail":{"field":"c"},"color":{"datum":"Other Time Periods","scale":{"domain":["Time Period 01","Other Time Periods"],"range":["#ee1a0a","#22ee22"]},"legend":{"title":null}}}},
{"data":{"name":"curves"},"transform":[{"filter":"datum.c <= 10"}],"mark":{"type":"line","interpolate":"monotone","strokeWidth":1.5,"clip":true},"encoding":{"x":{"field":"x","type":"quantitative"},"y":{"field":"y","type":"quantitative"},"detail":{"field":"c"},"color":{"datum":"Time Period 01"}}},
{"data":{"values":[{}]},"mark":{"type":"rect","fill":"#c9c39b","clip":false},"encoding":{"x":{"datum":0.13},"x2":{"datum":0.74},"y":{"datum":-0.451},"y2":{"datum":-0.92}}},
{"data":{"values":[{}]},"mark":{"type":"text","font":"Lato","fontWeight":"bold","fontSize":14,"lineHeight":15.5,"color":"#111","align":"center","baseline":"middle","clip":false},"encoding":{"x":{"datum":0.435},"y":{"datum":-0.611},"text":{"value":["UTC 0-4 hrs","PST 5pm-9pm"]}}},
{"data":{"values":[{}]},"mark":{"type":"rect","fill":"white","stroke":"#6f9bd6","strokeWidth":1.2,"clip":false},"encoding":{"x":{"datum":0.757},"x2":{"datum":1.238},"y":{"datum":-0.383},"y2":{"datum":-0.657}}},
{"data":{"values":[{}]},"mark":{"type":"text","font":"Lato","fontWeight":"bold","fontSize":11.5,"color":"#ee1a0a","align":"center","baseline":"middle","clip":false},"encoding":{"x":{"datum":0.997},"y":{"datum":-0.52},"text":{"value":"Ref: 1-chip"}}},
{"data":{"values":[{}]},"mark":{"type":"rule","stroke":"#ff0000","strokeWidth":3.5,"clip":false},"encoding":{"x":{"datum":1},"y":{"datum":-0.383},"y2":{"datum":-0.02}}},
{"data":{"values":[{}]},"mark":{"type":"rule","stroke":"#ff0000","strokeWidth":3,"strokeCap":"round","clip":false},"encoding":{"x":{"datum":0.965},"x2":{"datum":1},"y":{"datum":-0.15},"y2":{"datum":-0.01}}},
{"data":{"values":[{}]},"mark":{"type":"rule","stroke":"#ff0000","strokeWidth":3,"strokeCap":"round","clip":false},"encoding":{"x":{"datum":1.035},"x2":{"datum":1},"y":{"datum":-0.15},"y2":{"datum":-0.01}}},
{"data":{"values":[{}]},"mark":{"type":"text","font":"Liberation Serif","fontWeight":"bold","fontSize":26.5,"align":"left","baseline":"alphabetic","color":"black","clip":false},"encoding":{"x":{"datum":-0.227},"y":{"datum":-1.549},"text":{"value":"Figure 11a:"}}},
{"data":{"values":[{}]},"mark":{"type":"text","font":"Liberation Serif","fontSize":26.5,"align":"left","baseline":"alphabetic","color":"black","clip":false},"encoding":{"x":{"datum":0.524},"y":{"datum":-1.549},"text":{"value":"Time"}}},
{"data":{"values":[{}]},"mark":{"type":"text","font":"Liberation Serif","fontSize":26.5,"align":"left","baseline":"alphabetic","color":"black","clip":false},"encoding":{"x":{"datum":0.884},"y":{"datum":-1.549},"text":{"value":"period"}}},
{"data":{"values":[{}]},"mark":{"type":"text","font":"Liberation Serif","fontSize":26.5,"align":"right","baseline":"alphabetic","color":"black","clip":false},"encoding":{"x":{"datum":1.378},"y":{"datum":-1.549},"text":{"value":"1"}}},
{"data":{"values":[{}]},"mark":{"type":"text","font":"Liberation Serif","fontSize":26.5,"align":"left","baseline":"alphabetic","color":"black","clip":false},"encoding":{"x":{"datum":-0.227},"y":{"datum":-1.891},"text":{"value":"highlighted."}}}
]},
{"width":222,"height":175,
"layer":[
{"data":{"values":[{}]},"mark":{"type":"rect","fillOpacity":0,"stroke":"black","strokeWidth":2,"clip":false},"encoding":{"x":{"datum":-0.314},"x2":{"datum":1.449},"y":{"datum":1.194},"y2":{"datum":-2.029}}},
{"data":{"values":[{}]},"mark":{"type":"rule","stroke":"black","strokeWidth":2,"clip":false},"encoding":{"x":{"datum":-0.314},"x2":{"datum":1.449},"y":{"datum":-1.286}}},
{"data":{"values":[{}]},"mark":{"type":"text","font":"Liberation Sans","fontSize":8.5,"color":"#222","align":"center","baseline":"middle","clip":false},"encoding":{"x":{"datum":0.6},"y":{"datum":1.103},"text":{"value":"L1-GPS - WAAS-GEO Corrected  - 1 Chip"}}},
{"data":{"name":"curves"},"transform":[{"filter":"datum.c <= 10 || datum.c > 20"}],"mark":{"type":"line","interpolate":"monotone","strokeWidth":1,"clip":true},"encoding":{"x":{"field":"x","type":"quantitative","scale":{"domain":[0,1.2],"nice":false,"zero":false},"axis":{"values":[0,0.2,0.4,0.6,0.8,1,1.2],"format":"~g","title":"User Correlator Spacing [Chips]"}},"y":{"field":"y","type":"quantitative","scale":{"domain":[-1,1],"nice":false,"zero":false},"axis":{"values":[-1,-0.8,-0.6,-0.4,-0.2,0,0.2,0.4,0.6,0.8,1],"format":"~g","title":"Error [m]"}},"detail":{"field":"c"},"color":{"datum":"Other Time Periods","scale":{"domain":["Time Period 02","Other Time Periods"],"range":["#ee1a0a","#22ee22"]},"legend":{"title":null}}}},
{"data":{"name":"curves"},"transform":[{"filter":"datum.c > 10 && datum.c <= 20"}],"mark":{"type":"line","interpolate":"monotone","strokeWidth":1.5,"clip":true},"encoding":{"x":{"field":"x","type":"quantitative"},"y":{"field":"y","type":"quantitative"},"detail":{"field":"c"},"color":{"datum":"Time Period 02"}}},
{"data":{"values":[{}]},"mark":{"type":"rect","fill":"#c9c39b","clip":false},"encoding":{"x":{"datum":0.184},"x2":{"datum":0.73},"y":{"datum":-0.451},"y2":{"datum":-0.92}}},
{"data":{"values":[{}]},"mark":{"type":"text","font":"Lato","fontWeight":"bold","fontSize":14,"lineHeight":15.5,"color":"#111","align":"center","baseline":"middle","clip":false},"encoding":{"x":{"datum":0.457},"y":{"datum":-0.611},"text":{"value":["UTC 7-10 hrs","PST 12-3am"]}}},
{"data":{"values":[{}]},"mark":{"type":"rect","fill":"white","stroke":"#6f9bd6","strokeWidth":1.2,"clip":false},"encoding":{"x":{"datum":0.757},"x2":{"datum":1.238},"y":{"datum":-0.383},"y2":{"datum":-0.657}}},
{"data":{"values":[{}]},"mark":{"type":"text","font":"Lato","fontWeight":"bold","fontSize":11.5,"color":"#ee1a0a","align":"center","baseline":"middle","clip":false},"encoding":{"x":{"datum":0.997},"y":{"datum":-0.52},"text":{"value":"Ref: 1-chip"}}},
{"data":{"values":[{}]},"mark":{"type":"rule","stroke":"#ff0000","strokeWidth":3.5,"clip":false},"encoding":{"x":{"datum":1},"y":{"datum":-0.383},"y2":{"datum":-0.02}}},
{"data":{"values":[{}]},"mark":{"type":"rule","stroke":"#ff0000","strokeWidth":3,"strokeCap":"round","clip":false},"encoding":{"x":{"datum":0.965},"x2":{"datum":1},"y":{"datum":-0.15},"y2":{"datum":-0.01}}},
{"data":{"values":[{}]},"mark":{"type":"rule","stroke":"#ff0000","strokeWidth":3,"strokeCap":"round","clip":false},"encoding":{"x":{"datum":1.035},"x2":{"datum":1},"y":{"datum":-0.15},"y2":{"datum":-0.01}}},
{"data":{"values":[{}]},"mark":{"type":"text","font":"Liberation Serif","fontWeight":"bold","fontSize":26.5,"align":"left","baseline":"alphabetic","color":"black","clip":false},"encoding":{"x":{"datum":-0.232},"y":{"datum":-1.549},"text":{"value":"Figure 11b:"}}},
{"data":{"values":[{}]},"mark":{"type":"text","font":"Liberation Serif","fontSize":26.5,"align":"left","baseline":"alphabetic","color":"black","clip":false},"encoding":{"x":{"datum":0.519},"y":{"datum":-1.549},"text":{"value":"Time"}}},
{"data":{"values":[{}]},"mark":{"type":"text","font":"Liberation Serif","fontSize":26.5,"align":"left","baseline":"alphabetic","color":"black","clip":false},"encoding":{"x":{"datum":0.878},"y":{"datum":-1.549},"text":{"value":"period"}}},
{"data":{"values":[{}]},"mark":{"type":"text","font":"Liberation Serif","fontSize":26.5,"align":"right","baseline":"alphabetic","color":"black","clip":false},"encoding":{"x":{"datum":1.378},"y":{"datum":-1.549},"text":{"value":"2"}}},
{"data":{"values":[{}]},"mark":{"type":"text","font":"Liberation Serif","fontSize":26.5,"align":"left","baseline":"alphabetic","color":"black","clip":false},"encoding":{"x":{"datum":-0.232},"y":{"datum":-1.891},"text":{"value":"highlighted."}}}
]},
{"width":222,"height":175,
"layer":[
{"data":{"values":[{}]},"mark":{"type":"rect","fillOpacity":0,"stroke":"black","strokeWidth":2,"clip":false},"encoding":{"x":{"datum":-0.308},"x2":{"datum":1.449},"y":{"datum":1.171},"y2":{"datum":-1.983}}},
{"data":{"values":[{}]},"mark":{"type":"rule","stroke":"black","strokeWidth":2,"clip":false},"encoding":{"x":{"datum":-0.308},"x2":{"datum":1.449},"y":{"datum":-1.286}}},
{"data":{"values":[{}]},"mark":{"type":"rule","stroke":"black","strokeWidth":2,"clip":false},"encoding":{"x":{"datum":-0.308},"y":{"datum":-1.983},"y2":{"datum":-3.754}}},
{"data":{"values":[{}]},"mark":{"type":"rule","stroke":"black","strokeWidth":2,"clip":false},"encoding":{"x":{"datum":3.211},"y":{"datum":-1.983},"y2":{"datum":-3.754}}},
{"data":{"values":[{}]},"mark":{"type":"text","font":"Liberation Sans","fontSize":8.5,"color":"#222","align":"center","baseline":"middle","clip":false},"encoding":{"x":{"datum":0.6},"y":{"datum":1.103},"text":{"value":"L1-GPS - WAAS-GEO Corrected  - 1 Chip"}}},
{"data":{"name":"curves"},"transform":[{"filter":"datum.c <= 20 || datum.c > 30"}],"mark":{"type":"line","interpolate":"monotone","strokeWidth":1,"clip":true},"encoding":{"x":{"field":"x","type":"quantitative","scale":{"domain":[0,1.2],"nice":false,"zero":false},"axis":{"values":[0,0.2,0.4,0.6,0.8,1,1.2],"format":"~g","title":"User Correlator Spacing [Chips]"}},"y":{"field":"y","type":"quantitative","scale":{"domain":[-1,1],"nice":false,"zero":false},"axis":{"values":[-1,-0.8,-0.6,-0.4,-0.2,0,0.2,0.4,0.6,0.8,1],"format":"~g","title":"Error [m]"}},"detail":{"field":"c"},"color":{"datum":"Other Time Periods","scale":{"domain":["Time Period 03","Other Time Periods"],"range":["#ee1a0a","#22ee22"]},"legend":{"title":null}}}},
{"data":{"name":"curves"},"transform":[{"filter":"datum.c > 20 && datum.c <= 30"}],"mark":{"type":"line","interpolate":"monotone","strokeWidth":1.5,"clip":true},"encoding":{"x":{"field":"x","type":"quantitative"},"y":{"field":"y","type":"quantitative"},"detail":{"field":"c"},"color":{"datum":"Time Period 03"}}},
{"data":{"values":[{}]},"mark":{"type":"rect","fill":"#c9c39b","clip":false},"encoding":{"x":{"datum":0.135},"x2":{"datum":0.73},"y":{"datum":-0.451},"y2":{"datum":-0.92}}},
{"data":{"values":[{}]},"mark":{"type":"text","font":"Lato","fontWeight":"bold","fontSize":14,"lineHeight":15.5,"color":"#111","align":"center","baseline":"middle","clip":false},"encoding":{"x":{"datum":0.432},"y":{"datum":-0.611},"text":{"value":["UTC 14-16 hrs","PST 7-9am"]}}},
{"data":{"values":[{}]},"mark":{"type":"rect","fill":"white","stroke":"#6f9bd6","strokeWidth":1.2,"clip":false},"encoding":{"x":{"datum":0.762},"x2":{"datum":1.243},"y":{"datum":-0.383},"y2":{"datum":-0.66}}},
{"data":{"values":[{}]},"mark":{"type":"text","font":"Lato","fontWeight":"bold","fontSize":11.5,"color":"#ee1a0a","align":"center","baseline":"middle","clip":false},"encoding":{"x":{"datum":1.0},"y":{"datum":-0.52},"text":{"value":"Ref: 1-chip"}}},
{"data":{"values":[{}]},"mark":{"type":"rule","stroke":"#ff0000","strokeWidth":3.5,"clip":false},"encoding":{"x":{"datum":1},"y":{"datum":-0.383},"y2":{"datum":-0.02}}},
{"data":{"values":[{}]},"mark":{"type":"rule","stroke":"#ff0000","strokeWidth":3,"strokeCap":"round","clip":false},"encoding":{"x":{"datum":0.965},"x2":{"datum":1},"y":{"datum":-0.15},"y2":{"datum":-0.01}}},
{"data":{"values":[{}]},"mark":{"type":"rule","stroke":"#ff0000","strokeWidth":3,"strokeCap":"round","clip":false},"encoding":{"x":{"datum":1.035},"x2":{"datum":1},"y":{"datum":-0.15},"y2":{"datum":-0.01}}},
{"data":{"values":[{}]},"mark":{"type":"text","font":"Liberation Serif","fontWeight":"bold","fontSize":26.5,"align":"left","baseline":"alphabetic","color":"black","clip":false},"encoding":{"x":{"datum":-0.227},"y":{"datum":-1.571},"text":{"value":"Figure 11c:"}}},
{"data":{"values":[{}]},"mark":{"type":"text","font":"Liberation Serif","fontSize":26.5,"align":"left","baseline":"alphabetic","color":"black","clip":false},"encoding":{"x":{"datum":0.524},"y":{"datum":-1.571},"text":{"value":"Time"}}},
{"data":{"values":[{}]},"mark":{"type":"text","font":"Liberation Serif","fontSize":26.5,"align":"left","baseline":"alphabetic","color":"black","clip":false},"encoding":{"x":{"datum":0.884},"y":{"datum":-1.571},"text":{"value":"period"}}},
{"data":{"values":[{}]},"mark":{"type":"text","font":"Liberation Serif","fontSize":26.5,"align":"right","baseline":"alphabetic","color":"black","clip":false},"encoding":{"x":{"datum":1.378},"y":{"datum":-1.571},"text":{"value":"3"}}},
{"data":{"values":[{}]},"mark":{"type":"text","font":"Liberation Serif","fontSize":26.5,"align":"left","baseline":"alphabetic","color":"black","clip":false},"encoding":{"x":{"datum":-0.227},"y":{"datum":-1.914},"text":{"value":"highlighted."}}},
{"data":{"values":[{}]},"mark":{"type":"text","font":"Liberation Serif","fontWeight":"bold","fontSize":26.5,"align":"left","baseline":"alphabetic","color":"black","clip":false},"encoding":{"x":{"datum":-0.227},"y":{"datum":-2.326},"text":{"value":"Figure 11"}}},
{"data":{"values":[{}]},"mark":{"type":"text","font":"Liberation Serif","fontSize":26.5,"align":"left","baseline":"alphabetic","color":"black","clip":false},"encoding":{"x":{"datum":0.341},"y":{"datum":-2.326},"text":{"value":":"}}},
{"data":{"values":[{}]},"mark":{"type":"text","font":"Liberation Serif","fontSize":26.5,"align":"left","baseline":"alphabetic","color":"black","clip":false},"encoding":{"x":{"datum":0.507},"y":{"datum":-2.326},"text":{"value":"Tracking"}}},
{"data":{"values":[{}]},"mark":{"type":"text","font":"Liberation Serif","fontSize":26.5,"align":"left","baseline":"alphabetic","color":"black","clip":false},"encoding":{"x":{"datum":1.134},"y":{"datum":-2.326},"text":{"value":"error"}}},
{"data":{"values":[{}]},"mark":{"type":"text","font":"Liberation Serif","fontSize":26.5,"align":"left","baseline":"alphabetic","color":"black","clip":false},"encoding":{"x":{"datum":1.521},"y":{"datum":-2.326},"text":{"value":"plots"}}},
{"data":{"values":[{}]},"mark":{"type":"text","font":"Liberation Serif","fontSize":26.5,"align":"left","baseline":"alphabetic","color":"black","clip":false},"encoding":{"x":{"datum":1.909},"y":{"datum":-2.326},"text":{"value":"after"}}},
{"data":{"values":[{}]},"mark":{"type":"text","font":"Liberation Serif","fontSize":26.5,"align":"left","baseline":"alphabetic","color":"black","clip":false},"encoding":{"x":{"datum":2.28},"y":{"datum":-2.326},"text":{"value":"application"}}},
{"data":{"values":[{}]},"mark":{"type":"text","font":"Liberation Serif","fontSize":26.5,"align":"right","baseline":"alphabetic","color":"black","clip":false},"encoding":{"x":{"datum":3.146},"y":{"datum":-2.326},"text":{"value":"of"}}},
{"data":{"values":[{}]},"mark":{"type":"text","font":"Liberation Serif","fontSize":26.5,"align":"left","baseline":"alphabetic","color":"black","clip":false},"encoding":{"x":{"datum":-0.227},"y":{"datum":-2.669},"text":{"value":"corrections"}}},
{"data":{"values":[{}]},"mark":{"type":"text","font":"Liberation Serif","fontSize":26.5,"align":"left","baseline":"alphabetic","color":"black","clip":false},"encoding":{"x":{"datum":0.523},"y":{"datum":-2.669},"text":{"value":"for"}}},
{"data":{"values":[{}]},"mark":{"type":"text","font":"Liberation Serif","fontSize":26.5,"align":"left","baseline":"alphabetic","color":"black","clip":false},"encoding":{"x":{"datum":0.804},"y":{"datum":-2.669},"text":{"value":"time-varying"}}},
{"data":{"values":[{}]},"mark":{"type":"text","font":"Liberation Serif","fontSize":26.5,"align":"left","baseline":"alphabetic","color":"black","clip":false},"encoding":{"x":{"datum":1.658},"y":{"datum":-2.669},"text":{"value":"biases"}}},
{"data":{"values":[{}]},"mark":{"type":"text","font":"Liberation Serif","fontSize":26.5,"align":"left","baseline":"alphabetic","color":"black","clip":false},"encoding":{"x":{"datum":2.123},"y":{"datum":-2.669},"text":{"value":"and"}}},
{"data":{"values":[{}]},"mark":{"type":"text","font":"Liberation Serif","fontSize":26.5,"align":"left","baseline":"alphabetic","color":"black","clip":false},"encoding":{"x":{"datum":2.444},"y":{"datum":-2.669},"text":{"value":"removal"}}},
{"data":{"values":[{}]},"mark":{"type":"text","font":"Liberation Serif","fontSize":26.5,"align":"right","baseline":"alphabetic","color":"black","clip":false},"encoding":{"x":{"datum":3.146},"y":{"datum":-2.669},"text":{"value":"of"}}},
{"data":{"values":[{}]},"mark":{"type":"text","font":"Liberation Serif","fontSize":26.5,"align":"left","baseline":"alphabetic","color":"black","clip":false},"encoding":{"x":{"datum":-0.227},"y":{"datum":-3.023},"text":{"value":"common"}}},
{"data":{"values":[{}]},"mark":{"type":"text","font":"Liberation Serif","fontSize":26.5,"align":"left","baseline":"alphabetic","color":"black","clip":false},"encoding":{"x":{"datum":0.319},"y":{"datum":-3.023},"text":{"value":"mean."}}},
{"data":{"values":[{}]},"mark":{"type":"text","font":"Liberation Serif","fontSize":26.5,"align":"left","baseline":"alphabetic","color":"black","clip":false},"encoding":{"x":{"datum":0.709},"y":{"datum":-3.023},"text":{"value":"Tracking"}}},
{"data":{"values":[{}]},"mark":{"type":"text","font":"Liberation Serif","fontSize":26.5,"align":"left","baseline":"alphabetic","color":"black","clip":false},"encoding":{"x":{"datum":1.271},"y":{"datum":-3.023},"text":{"value":"error"}}},
{"data":{"values":[{}]},"mark":{"type":"text","font":"Liberation Serif","fontSize":26.5,"align":"left","baseline":"alphabetic","color":"black","clip":false},"encoding":{"x":{"datum":1.594},"y":{"datum":-3.023},"text":{"value":"plots"}}},
{"data":{"values":[{}]},"mark":{"type":"text","font":"Liberation Serif","fontSize":26.5,"align":"left","baseline":"alphabetic","color":"black","clip":false},"encoding":{"x":{"datum":1.918},"y":{"datum":-3.023},"text":{"value":"for"}}},
{"data":{"values":[{}]},"mark":{"type":"text","font":"Liberation Serif","fontSize":26.5,"align":"left","baseline":"alphabetic","color":"black","clip":false},"encoding":{"x":{"datum":2.129},"y":{"datum":-3.023},"text":{"value":"the"}}},
{"data":{"values":[{}]},"mark":{"type":"text","font":"Liberation Serif","fontSize":26.5,"align":"left","baseline":"alphabetic","color":"black","clip":false},"encoding":{"x":{"datum":2.349},"y":{"datum":-3.023},"text":{"value":"entire"}}},
{"data":{"values":[{}]},"mark":{"type":"text","font":"Liberation Serif","fontSize":26.5,"align":"left","baseline":"alphabetic","color":"black","clip":false},"encoding":{"x":{"datum":2.719},"y":{"datum":-3.023},"text":{"value":"day"}}},
{"data":{"values":[{}]},"mark":{"type":"text","font":"Liberation Serif","fontSize":26.5,"align":"right","baseline":"alphabetic","color":"black","clip":false},"encoding":{"x":{"datum":3.146},"y":{"datum":-3.023},"text":{"value":"are"}}},
{"data":{"values":[{}]},"mark":{"type":"text","font":"Liberation Serif","fontSize":26.5,"align":"left","baseline":"alphabetic","color":"black","clip":false},"encoding":{"x":{"datum":-0.227},"y":{"datum":-3.366},"text":{"value":"in"}}},
{"data":{"values":[{}]},"mark":{"type":"text","font":"Liberation Serif","fontSize":26.5,"align":"left","baseline":"alphabetic","color":"black","clip":false},"encoding":{"x":{"datum":-0.068},"y":{"datum":-3.366},"text":{"value":"green,"}}},
{"data":{"values":[{}]},"mark":{"type":"text","font":"Liberation Serif","fontSize":26.5,"align":"left","baseline":"alphabetic","color":"black","clip":false},"encoding":{"x":{"datum":0.335},"y":{"datum":-3.366},"text":{"value":"while"}}},
{"data":{"values":[{}]},"mark":{"type":"text","font":"Liberation Serif","fontSize":26.5,"align":"left","baseline":"alphabetic","color":"black","clip":false},"encoding":{"x":{"datum":0.701},"y":{"datum":-3.366},"text":{"value":"tracking"}}},
{"data":{"values":[{}]},"mark":{"type":"text","font":"Liberation Serif","fontSize":26.5,"align":"left","baseline":"alphabetic","color":"black","clip":false},"encoding":{"x":{"datum":1.219},"y":{"datum":-3.366},"text":{"value":"error"}}},
{"data":{"values":[{}]},"mark":{"type":"text","font":"Liberation Serif","fontSize":26.5,"align":"left","baseline":"alphabetic","color":"black","clip":false},"encoding":{"x":{"datum":1.545},"y":{"datum":-3.366},"text":{"value":"plots"}}},
{"data":{"values":[{}]},"mark":{"type":"text","font":"Liberation Serif","fontSize":26.5,"align":"left","baseline":"alphabetic","color":"black","clip":false},"encoding":{"x":{"datum":1.871},"y":{"datum":-3.366},"text":{"value":"for"}}},
{"data":{"values":[{}]},"mark":{"type":"text","font":"Liberation Serif","fontSize":26.5,"align":"left","baseline":"alphabetic","color":"black","clip":false},"encoding":{"x":{"datum":2.086},"y":{"datum":-3.366},"text":{"value":"the"}}},
{"data":{"values":[{}]},"mark":{"type":"text","font":"Liberation Serif","fontSize":26.5,"align":"left","baseline":"alphabetic","color":"black","clip":false},"encoding":{"x":{"datum":2.31},"y":{"datum":-3.366},"text":{"value":"time"}}},
{"data":{"values":[{}]},"mark":{"type":"text","font":"Liberation Serif","fontSize":26.5,"align":"left","baseline":"alphabetic","color":"black","clip":false},"encoding":{"x":{"datum":2.612},"y":{"datum":-3.366},"text":{"value":"period"}}},
{"data":{"values":[{}]},"mark":{"type":"text","font":"Liberation Serif","fontSize":26.5,"align":"right","baseline":"alphabetic","color":"black","clip":false},"encoding":{"x":{"datum":3.146},"y":{"datum":-3.366},"text":{"value":"of"}}},
{"data":{"values":[{}]},"mark":{"type":"text","font":"Liberation Serif","fontSize":26.5,"align":"left","baseline":"alphabetic","color":"black","clip":false},"encoding":{"x":{"datum":-0.227},"y":{"datum":-3.691},"text":{"value":"interest are highlighted in red."}}}
]},
{"width":222,"height":175,
"layer":[
{"data":{"values":[{}]},"mark":{"type":"rect","fillOpacity":0,"stroke":"black","strokeWidth":2,"clip":false},"encoding":{"x":{"datum":-0.314},"x2":{"datum":1.449},"y":{"datum":1.171},"y2":{"datum":-1.983}}},
{"data":{"values":[{}]},"mark":{"type":"rule","stroke":"black","strokeWidth":2,"clip":false},"encoding":{"x":{"datum":-0.314},"x2":{"datum":1.449},"y":{"datum":-1.286}}},
{"data":{"values":[{}]},"mark":{"type":"text","font":"Liberation Sans","fontSize":8.5,"color":"#222","align":"center","baseline":"middle","clip":false},"encoding":{"x":{"datum":0.6},"y":{"datum":1.103},"text":{"value":"L1-GPS - WAAS-GEO Corrected  - 1 Chip"}}},
{"data":{"name":"curves"},"transform":[{"filter":"datum.c <= 30 || datum.c > 40"}],"mark":{"type":"line","interpolate":"monotone","strokeWidth":1,"clip":true},"encoding":{"x":{"field":"x","type":"quantitative","scale":{"domain":[0,1.2],"nice":false,"zero":false},"axis":{"values":[0,0.2,0.4,0.6,0.8,1,1.2],"format":"~g","title":"User Correlator Spacing [Chips]"}},"y":{"field":"y","type":"quantitative","scale":{"domain":[-1,1],"nice":false,"zero":false},"axis":{"values":[-1,-0.8,-0.6,-0.4,-0.2,0,0.2,0.4,0.6,0.8,1],"format":"~g","title":"Error [m]"}},"detail":{"field":"c"},"color":{"datum":"Other Time Periods","scale":{"domain":["Time Period 04","Other Time Periods"],"range":["#ee1a0a","#22ee22"]},"legend":{"title":null}}}},
{"data":{"name":"curves"},"transform":[{"filter":"datum.c > 30 && datum.c <= 40"}],"mark":{"type":"line","interpolate":"monotone","strokeWidth":1.5,"clip":true},"encoding":{"x":{"field":"x","type":"quantitative"},"y":{"field":"y","type":"quantitative"},"detail":{"field":"c"},"color":{"datum":"Time Period 04"}}},
{"data":{"values":[{}]},"mark":{"type":"rect","fill":"#c9c39b","clip":false},"encoding":{"x":{"datum":0.184},"x2":{"datum":0.773},"y":{"datum":-0.451},"y2":{"datum":-0.92}}},
{"data":{"values":[{}]},"mark":{"type":"text","font":"Lato","fontWeight":"bold","fontSize":14,"lineHeight":15.5,"color":"#111","align":"center","baseline":"middle","clip":false},"encoding":{"x":{"datum":0.478},"y":{"datum":-0.611},"text":{"value":["UTC 21-23 hrs","PST 2-4pm"]}}},
{"data":{"values":[{}]},"mark":{"type":"rect","fill":"white","stroke":"#6f9bd6","strokeWidth":1.2,"clip":false},"encoding":{"x":{"datum":0.757},"x2":{"datum":1.238},"y":{"datum":-0.383},"y2":{"datum":-0.657}}},
{"data":{"values":[{}]},"mark":{"type":"text","font":"Lato","fontWeight":"bold","fontSize":11.5,"color":"#ee1a0a","align":"center","baseline":"middle","clip":false},"encoding":{"x":{"datum":0.997},"y":{"datum":-0.52},"text":{"value":"Ref: 1-chip"}}},
{"data":{"values":[{}]},"mark":{"type":"rule","stroke":"#ff0000","strokeWidth":3.5,"clip":false},"encoding":{"x":{"datum":1},"y":{"datum":-0.383},"y2":{"datum":-0.02}}},
{"data":{"values":[{}]},"mark":{"type":"rule","stroke":"#ff0000","strokeWidth":3,"strokeCap":"round","clip":false},"encoding":{"x":{"datum":0.965},"x2":{"datum":1},"y":{"datum":-0.15},"y2":{"datum":-0.01}}},
{"data":{"values":[{}]},"mark":{"type":"rule","stroke":"#ff0000","strokeWidth":3,"strokeCap":"round","clip":false},"encoding":{"x":{"datum":1.035},"x2":{"datum":1},"y":{"datum":-0.15},"y2":{"datum":-0.01}}},
{"data":{"values":[{}]},"mark":{"type":"text","font":"Liberation Serif","fontWeight":"bold","fontSize":26.5,"align":"left","baseline":"alphabetic","color":"black","clip":false},"encoding":{"x":{"datum":-0.232},"y":{"datum":-1.571},"text":{"value":"Figure 11d:"}}},
{"data":{"values":[{}]},"mark":{"type":"text","font":"Liberation Serif","fontSize":26.5,"align":"left","baseline":"alphabetic","color":"black","clip":false},"encoding":{"x":{"datum":0.519},"y":{"datum":-1.571},"text":{"value":"Time"}}},
{"data":{"values":[{}]},"mark":{"type":"text","font":"Liberation Serif","fontSize":26.5,"align":"left","baseline":"alphabetic","color":"black","clip":false},"encoding":{"x":{"datum":0.878},"y":{"datum":-1.571},"text":{"value":"period"}}},
{"data":{"values":[{}]},"mark":{"type":"text","font":"Liberation Serif","fontSize":26.5,"align":"right","baseline":"alphabetic","color":"black","clip":false},"encoding":{"x":{"datum":1.378},"y":{"datum":-1.571},"text":{"value":"4"}}},
{"data":{"values":[{}]},"mark":{"type":"text","font":"Liberation Serif","fontSize":26.5,"align":"left","baseline":"alphabetic","color":"black","clip":false},"encoding":{"x":{"datum":-0.232},"y":{"datum":-1.914},"text":{"value":"highlighted."}}}
]}
],
"config":{
"font":"Liberation Sans",
"view":{"stroke":"black","strokeWidth":1},
"axis":{"grid":true,"gridColor":"black","gridDash":[6,5],"gridOpacity":1,"gridWidth":0.8,"domain":false,"ticks":true,"tickColor":"black","tickSize":-3,"tickCount":30,"labelPadding":5,"labelOverlap":false,"labelFontSize":8.5,"labelColor":"#222","labelFont":"Liberation Sans","titleFont":"Liberation Sans","titleFontSize":8.5,"titleFontWeight":"normal","titleColor":"#222","titlePadding":2},
"legend":{"orient":"none","legendX":52,"legendY":11,"strokeColor":"black","fillColor":"white","padding":2,"symbolType":"stroke","symbolSize":100,"symbolStrokeWidth":2,"labelFontSize":7,"labelFont":"Liberation Sans","labelColor":"#222","rowPadding":0,"labelOffset":3},
"locale":{"number":{"decimal":".","thousands":",","grouping":[3],"currency":["$",""],"minus":"-"}}
}
}
